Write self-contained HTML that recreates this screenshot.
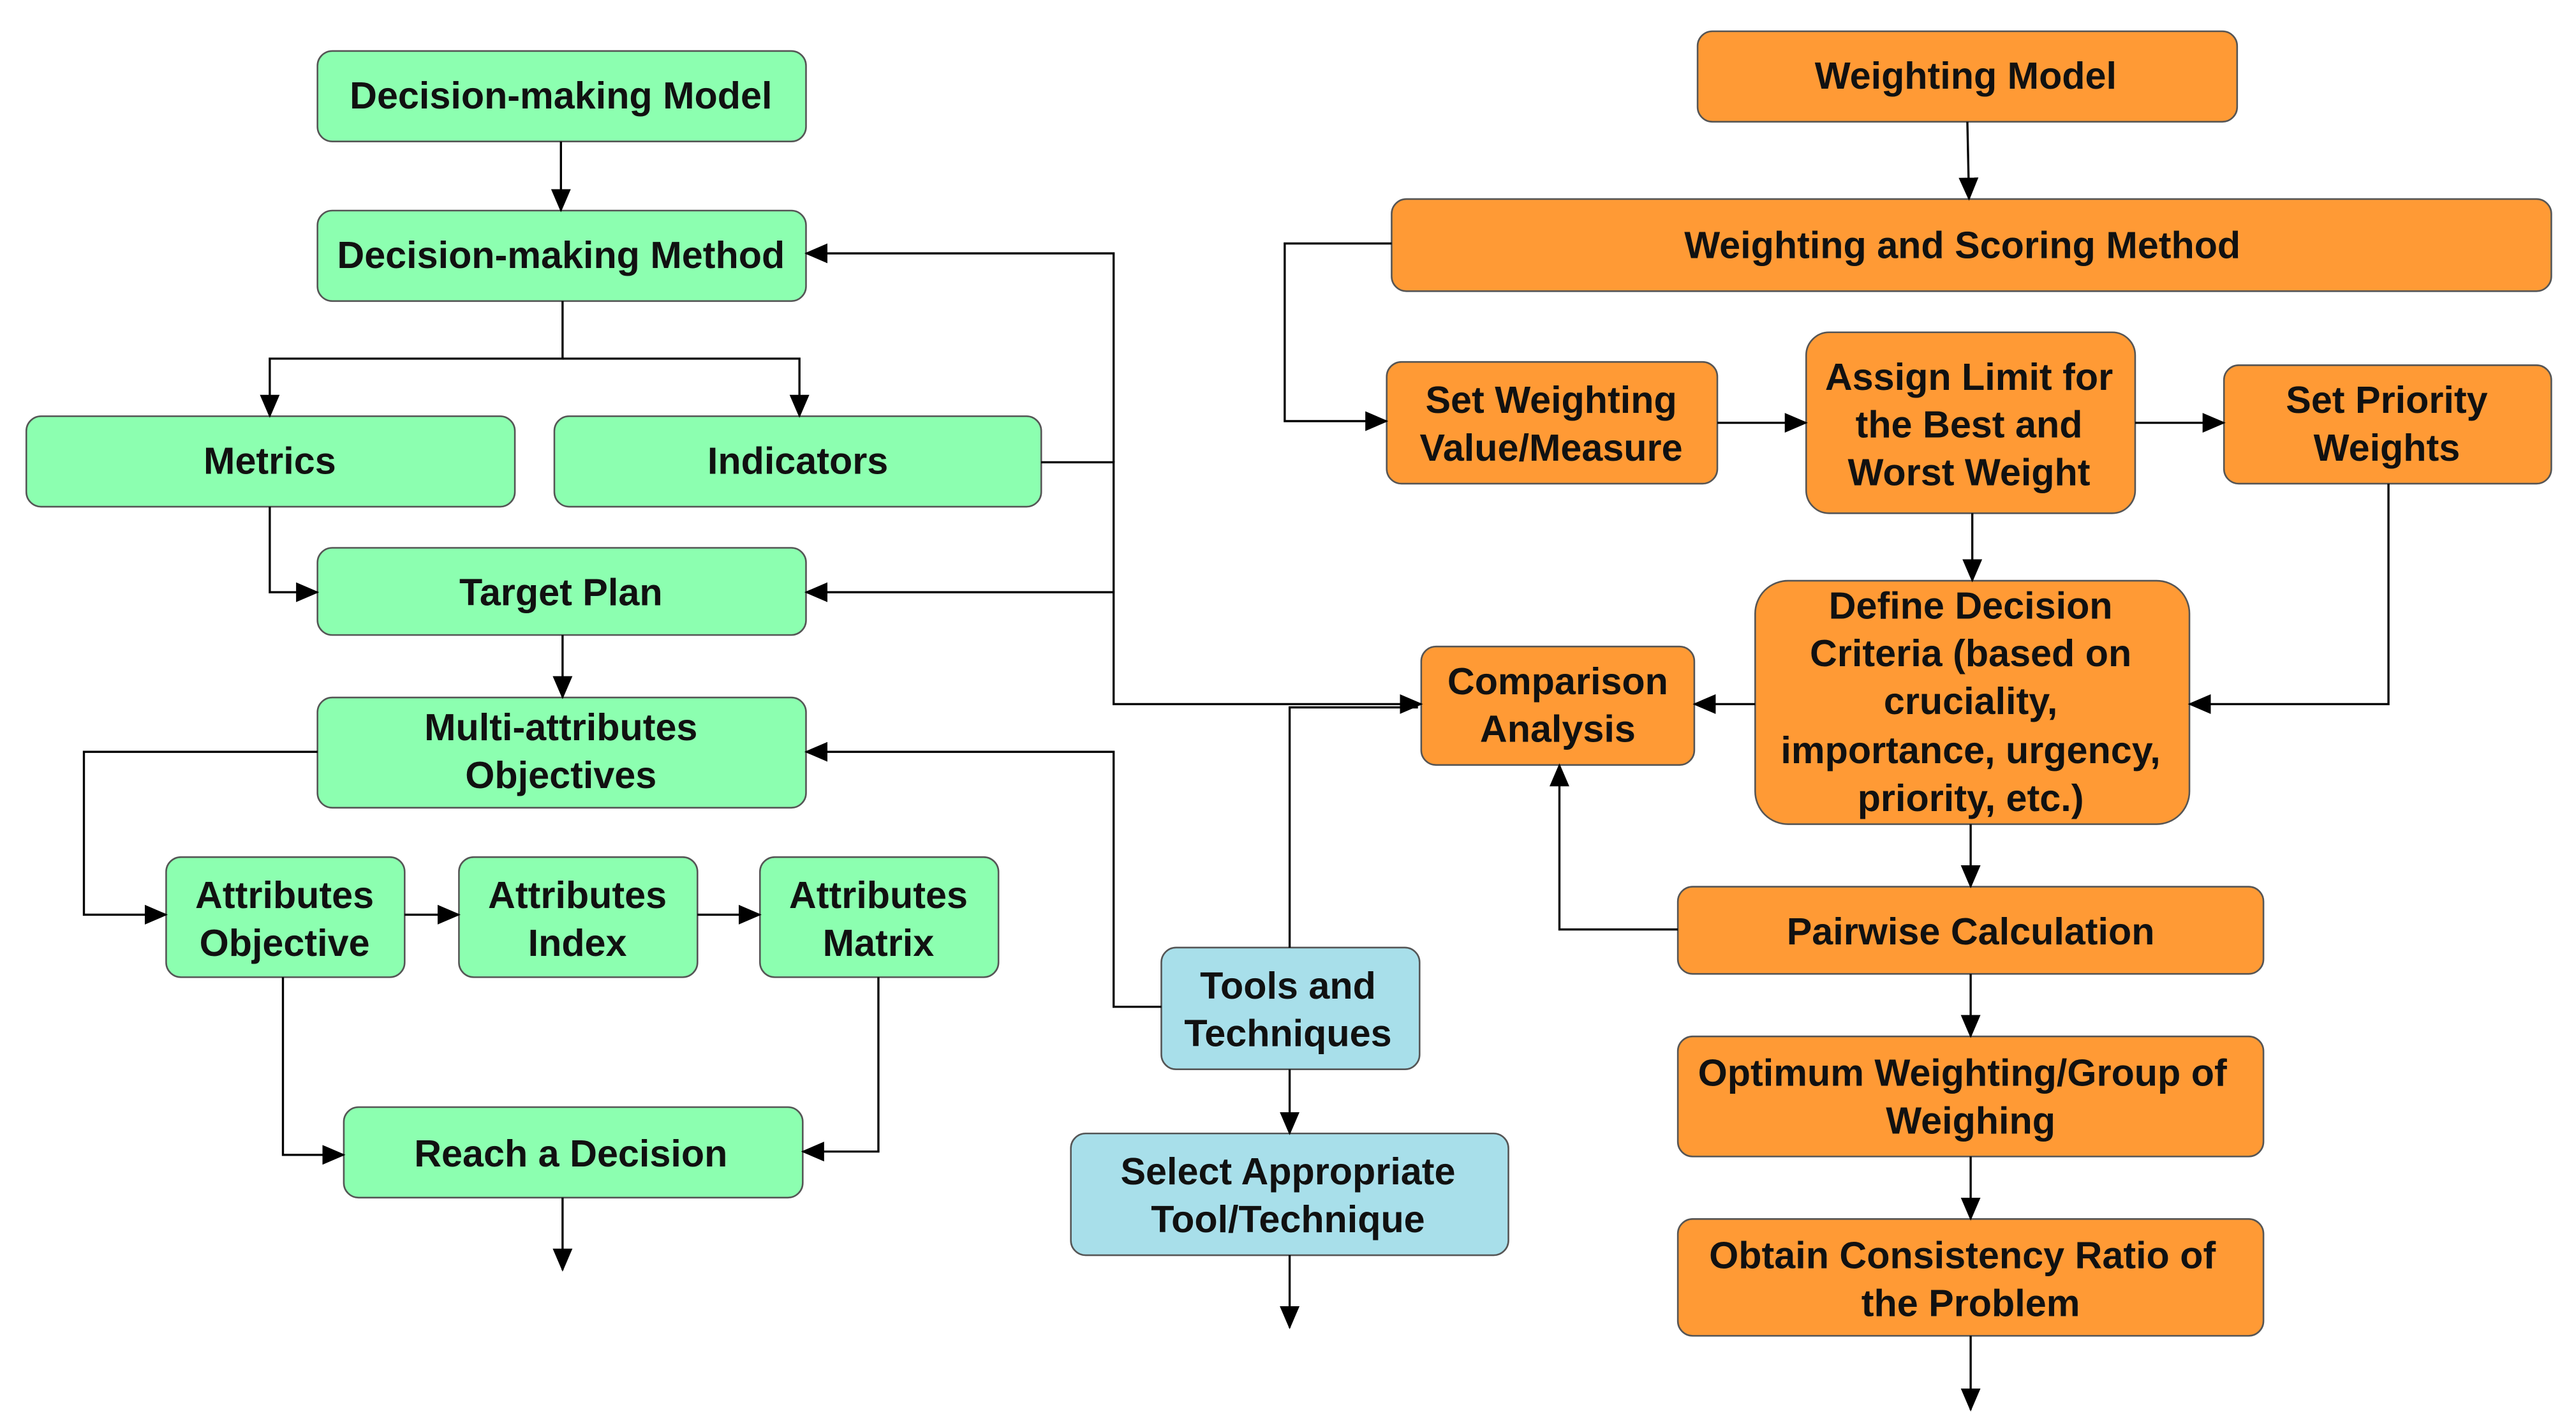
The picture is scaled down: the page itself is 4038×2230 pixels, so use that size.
<!DOCTYPE html>
<html><head><meta charset="utf-8"><style>
html,body{margin:0;padding:0;background:#fff;}
svg{display:block;}
text{font-family:"Liberation Sans",Arial,sans-serif;font-size:23px;font-weight:bold;fill:#111;text-anchor:middle;}
.g{fill:#8cffb0;stroke:#555;stroke-width:1;}
.o{fill:#ff9a35;stroke:#555;stroke-width:1;}
.b{fill:#a8dfea;stroke:#555;stroke-width:1;}
.l{fill:none;stroke:#000;stroke-width:1.3;}
</style></head><body>
<svg width="4038" height="2230" viewBox="0 0 1566 865" preserveAspectRatio="none" xmlns="http://www.w3.org/2000/svg">
<defs><marker id="a" markerWidth="14" markerHeight="12" refX="13" refY="6" orient="auto" markerUnits="userSpaceOnUse"><path d="M0,0 L14,6 L0,12 z" fill="#000"/></marker></defs>
<rect class="g" x="193" y="31" width="297" height="55" rx="9"/>
<rect class="g" x="193" y="128" width="297" height="55" rx="9"/>
<rect class="g" x="16" y="253" width="297" height="55" rx="9"/>
<rect class="g" x="337" y="253" width="296" height="55" rx="9"/>
<rect class="g" x="193" y="333" width="297" height="53" rx="9"/>
<rect class="g" x="193" y="424" width="297" height="67" rx="9"/>
<rect class="g" x="101" y="521" width="145" height="73" rx="9"/>
<rect class="g" x="279" y="521" width="145" height="73" rx="9"/>
<rect class="g" x="462" y="521" width="145" height="73" rx="9"/>
<rect class="g" x="209" y="673" width="279" height="55" rx="9"/>
<rect class="b" x="706" y="576" width="157" height="74" rx="9"/>
<rect class="b" x="651" y="689" width="266" height="74" rx="9"/>
<rect class="o" x="1032" y="19" width="328" height="55" rx="9"/>
<rect class="o" x="846" y="121" width="705" height="56" rx="9"/>
<rect class="o" x="843" y="220" width="201" height="74" rx="9"/>
<rect class="o" x="1098" y="202" width="200" height="110" rx="14"/>
<rect class="o" x="1352" y="222" width="199" height="72" rx="9"/>
<rect class="o" x="1067" y="353" width="264" height="148" rx="20"/>
<rect class="o" x="864" y="393" width="166" height="72" rx="9"/>
<rect class="o" x="1020" y="539" width="356" height="53" rx="9"/>
<rect class="o" x="1020" y="630" width="356" height="73" rx="9"/>
<rect class="o" x="1020" y="741" width="356" height="71" rx="9"/>
<text x="341" y="66">Decision-making Model</text>
<text x="341" y="163">Decision-making Method</text>
<text x="164" y="288">Metrics</text>
<text x="485" y="288">Indicators</text>
<text x="341" y="368">Target Plan</text>
<text x="341" y="450">Multi-attributes</text>
<text x="341" y="479">Objectives</text>
<text x="173" y="552">Attributes</text><text x="173" y="581">Objective</text>
<text x="351" y="552">Attributes</text><text x="351" y="581">Index</text>
<text x="534" y="552">Attributes</text><text x="534" y="581">Matrix</text>
<text x="347" y="709">Reach a Decision</text>
<text x="783" y="607">Tools and</text><text x="783" y="636">Techniques</text>
<text x="783" y="720">Select Appropriate</text><text x="783" y="749">Tool/Technique</text>
<text x="1195" y="54">Weighting Model</text>
<text x="1193" y="157">Weighting and Scoring Method</text>
<text x="943" y="251">Set Weighting</text><text x="943" y="280">Value/Measure</text>
<text x="1197" y="237">Assign Limit for</text><text x="1197" y="266">the Best and</text><text x="1197" y="295">Worst Weight</text>
<text x="1451" y="251">Set Priority</text><text x="1451" y="280">Weights</text>
<text x="1198" y="376">Define Decision</text><text x="1198" y="405">Criteria (based on</text><text x="1198" y="434">cruciality,</text><text x="1198" y="464">importance, urgency,</text><text x="1198" y="493">priority, etc.)</text>
<text x="947" y="422">Comparison</text><text x="947" y="451">Analysis</text>
<text x="1198" y="574">Pairwise Calculation</text>
<text x="1193" y="660">Optimum Weighting/Group of</text><text x="1198" y="689">Weighing</text>
<text x="1193" y="771">Obtain Consistency Ratio of</text><text x="1198" y="800">the Problem</text>
<path class="l" d="M341,86 V128" marker-end="url(#a)"/>
<path class="l" d="M342,183 V218 H164 V253" marker-end="url(#a)"/>
<path class="l" d="M342,218 H486 V253" marker-end="url(#a)"/>
<path class="l" d="M164,308 V360 H193" marker-end="url(#a)"/>
<path class="l" d="M633,281 H677 V428 H864" marker-end="url(#a)"/>
<path class="l" d="M677,281 V154 H490" marker-end="url(#a)"/>
<path class="l" d="M677,360 H490" marker-end="url(#a)"/>
<path class="l" d="M784,576 V430 H862"/>
<path class="l" d="M342,386 V424" marker-end="url(#a)"/>
<path class="l" d="M193,457 H51 V556 H101" marker-end="url(#a)"/>
<path class="l" d="M246,556 H279" marker-end="url(#a)"/>
<path class="l" d="M424,556 H462" marker-end="url(#a)"/>
<path class="l" d="M706,612 H677 V457 H490" marker-end="url(#a)"/>
<path class="l" d="M172,594 V702 H209" marker-end="url(#a)"/>
<path class="l" d="M534,594 V700 H488" marker-end="url(#a)"/>
<path class="l" d="M342,728 V772" marker-end="url(#a)"/>
<path class="l" d="M784,650 V689" marker-end="url(#a)"/>
<path class="l" d="M784,763 V807" marker-end="url(#a)"/>
<path class="l" d="M1196,74 L1197,121" marker-end="url(#a)"/>
<path class="l" d="M846,148 H781 V256 H843" marker-end="url(#a)"/>
<path class="l" d="M1044,257 H1098" marker-end="url(#a)"/>
<path class="l" d="M1298,257 H1352" marker-end="url(#a)"/>
<path class="l" d="M1199,312 V353" marker-end="url(#a)"/>
<path class="l" d="M1452,294 V428 H1331" marker-end="url(#a)"/>
<path class="l" d="M1067,428 H1030" marker-end="url(#a)"/>
<path class="l" d="M1198,501 V539" marker-end="url(#a)"/>
<path class="l" d="M1020,565 H948 V465" marker-end="url(#a)"/>
<path class="l" d="M1198,592 V630" marker-end="url(#a)"/>
<path class="l" d="M1198,703 V741" marker-end="url(#a)"/>
<path class="l" d="M1198,812 V857" marker-end="url(#a)"/>
</svg>
</body></html>
